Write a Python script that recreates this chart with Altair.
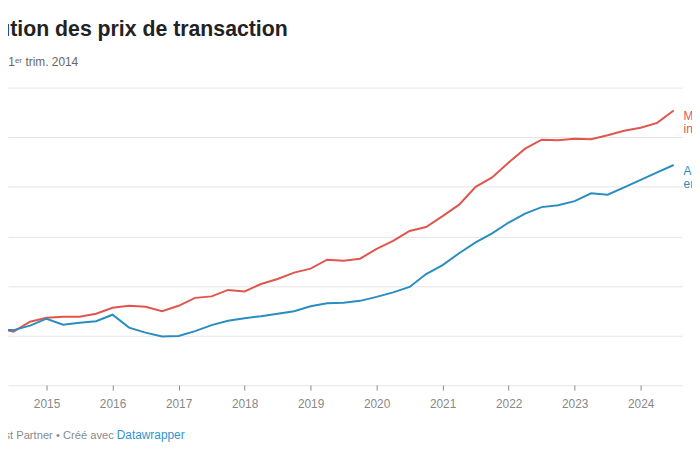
import altair as alt
import pandas as pd

# ---- data ----
quarters = [f"{y}-T{q}" for y in range(2014, 2025) for q in range(1, 5)][:43]

maisons = [100.0, 101.5, 100.8, 102.8,
           103.6, 103.8, 103.8, 104.4,
           105.6, 106.0, 105.8, 104.9,
           106.0, 107.6, 107.9, 109.2,
           108.9, 110.4, 111.4, 112.7,
           113.5, 115.3, 115.1, 115.5,
           117.5, 119.1, 121.1, 121.9,
           124.1, 126.4, 130.0, 131.9,
           134.9, 137.7, 139.5, 139.4,
           139.7, 139.6, 140.4, 141.3,
           141.9, 142.9, 145.4]

appartements = [100.0, 101.2, 101.1, 102.0,
                103.4, 102.2, 102.6, 102.9,
                104.2, 101.6, 100.6, 99.8,
                99.9, 100.9, 102.1, 103.0,
                103.5, 103.9, 104.4, 104.9,
                105.9, 106.5, 106.6, 107.0,
                107.8, 108.7, 109.8, 112.4,
                114.2, 116.6, 118.8, 120.6,
                122.8, 124.6, 125.9, 126.3,
                127.1, 128.7, 128.4, 129.9,
                131.4, 132.9, 134.4]

series_names = ["Maisons individuelles", "Appartements en PPE"]
label_line1 = ["Maisons", "Appartements"]
label_line2 = ["individuelles", "en PPE"]
year_ticks = list(range(2015, 2025))
y_ticks = [90, 100, 110, 120, 130, 140, 150]

title_text = "Évolution des prix de transaction"
subtitle_text = "Indice 100 = 1ᵉʳ trim. 2014"
source_text = "Source: Wüest Partner • Créé avec"
credit_text = "Datawrapper"

RED = "#e0564d"
BLUE = "#2a8dc2"
FONT = "Liberation Sans"


def qpos(label):
    y, q = label.split("-T")
    return int(y) + (int(q) - 1) / 4


rows = []
for name, vals in zip(series_names, [maisons, appartements]):
    for qlab, v in zip(quarters, vals):
        rows.append({"trimestre": qlab, "t": qpos(qlab), "v": v, "serie": name})
df = pd.DataFrame(rows)

last = pd.DataFrame({
    "serie": series_names,
    "t": [qpos(quarters[-1])] * 2,
    "v": [maisons[-1], appartements[-1]],
    "l1": label_line1,
    "l2": label_line2,
})

W, H = 682, 301

x_scale = alt.Scale(domain=[2014.416, 2024.628], nice=False, zero=False)
y_scale = alt.Scale(domain=[90, 150], nice=False, zero=False)
color = alt.Color("serie:N", scale=alt.Scale(domain=series_names, range=[RED, BLUE]), legend=None)

x_enc = alt.X("t:Q", scale=x_scale,
              axis=alt.Axis(values=year_ticks, format="d", title=None, grid=False,
                            domain=False, tickSize=5, tickColor="#888888",
                            labelColor="#888888", labelFontSize=12, labelFont=FONT,
                            labelPadding=9, labelFlush=False, labelOverlap=False))
y_enc = alt.Y("v:Q", scale=y_scale,
              axis=alt.Axis(values=y_ticks, title=None, grid=True, gridColor="#e5e5e5",
                            domain=False, ticks=False, labels=False))

lines = alt.Chart(df).mark_line(strokeWidth=2, clip=True).encode(
    x=x_enc, y=y_enc, color=color, detail="serie:N")

lab1 = alt.Chart(last).mark_text(align="left", dx=10, dy=6, fontSize=12, font=FONT).encode(
    x="t:Q", y="v:Q", text="l1:N", color=color)
lab2 = alt.Chart(last).mark_text(align="left", dx=10, dy=19, fontSize=12, font=FONT).encode(
    x="t:Q", y="v:Q", text="l2:N", color=color)

dummy = pd.DataFrame({"k": [0]})


def txt(text, x, y, align, size, col, weight="normal"):
    return alt.Chart(dummy).mark_text(
        align=align, baseline="alphabetic", fontSize=size, font=FONT,
        fontWeight=weight, color=col
    ).encode(x=alt.value(x), y=alt.value(y), text=alt.value(text))


title = txt(title_text, 283, -52.5, "right", 21.5, "#222222", "bold")
subtitle = txt(subtitle_text, 71, -22, "right", 12, "#666666")
source = txt(source_text, 107, 355, "right", 11.3, "#8a8a8a")
credit = txt(credit_text, 110, 355, "left", 12, "#2f95cf")

chart = alt.layer(lines, lab1, lab2, title, subtitle, source, credit).properties(
    width=W, height=H,
    background="white",
    autosize=alt.AutoSizeParams(type="none"),
    padding={"left": 0, "top": 78, "right": 10, "bottom": 59},
).configure_view(stroke=None)

chart.save("out.html", embed_options={"renderer": "svg", "actions": False})
